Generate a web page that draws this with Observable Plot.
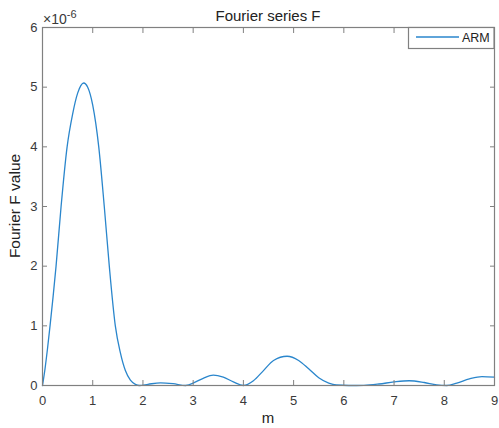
<!DOCTYPE html>
<html><head><meta charset="utf-8">
<script src="https://cdn.jsdelivr.net/npm/d3@7"></script>
<script src="https://cdn.jsdelivr.net/npm/@observablehq/plot@0.6"></script>
<style>
body{margin:0;background:#fff;}
#chart{position:relative;width:499px;height:428px;}
</style></head><body><div id="chart"></div>
<script>
const mValues = [0, 0.05, 0.1, 0.15, 0.21, 0.27, 0.37, 0.49, 0.6, 0.7, 0.82, 0.9, 1.0, 1.12, 1.23, 1.33, 1.45, 1.55, 1.65, 1.75, 1.85, 1.93,
  2.1, 2.35, 2.6, 2.85, 3.05, 3.2, 3.4, 3.6, 3.8, 4.0, 4.2, 4.4, 4.6, 4.87, 5.1, 5.3, 5.5, 5.7, 5.85, 6.1, 6.4, 6.7, 7.0, 7.3, 7.6, 7.85, 8.05, 8.25, 8.5, 8.75, 9.0];
const fValues = [0, 0.28, 0.62, 1.0, 1.48, 2.0, 3.0, 4.0, 4.55, 4.9, 5.07, 5.0, 4.7, 4.0, 3.0, 2.0, 1.0, 0.55, 0.25, 0.09, 0.02, 0,
  0.02, 0.045, 0.03, 0, 0.06, 0.12, 0.175, 0.14, 0.06, 0, 0.08, 0.25, 0.42, 0.49, 0.42, 0.28, 0.13, 0.04, 0.008, 0, 0.003, 0.025, 0.06, 0.08, 0.05, 0.01, 0, 0.04, 0.11, 0.15, 0.14];
const xTicks = [0, 1, 2, 3, 4, 5, 6, 7, 8, 9];
const yTicks = [0, 1, 2, 3, 4, 5, 6];
const seriesName = "ARM";
const chartTitle = "Fourier series F";
const xLabel = "m";
const yLabel = "Fourier F value";
const exponentBase = "×10";
const exponent = "-6";

const data = mValues.map((m, i) => ({m, f: fValues[i], series: seriesName}));
const W = 499, H = 428, ml = 42, mr = 5, mt = 27, mb = 43;
const axisColor = "#808080";
const lineColor = "#2a86cc";
const font = "'Liberation Sans', Arial, Helvetica, sans-serif";

const plot = Plot.plot({
  width: W, height: H, marginLeft: ml, marginRight: mr, marginTop: mt, marginBottom: mb,
  style: {fontFamily: font, fontSize: "13px", color: "#3a3a3a", background: "#fff"},
  x: {domain: [0, 9]},
  y: {domain: [0, 6]},
  marks: [
    Plot.line(data, {x: "m", y: "f", stroke: lineColor, strokeWidth: 1.3, curve: "monotone-x"}),
    Plot.axisX({anchor: "bottom", ticks: xTicks, tickSize: -5, tickPadding: 15, tickFormat: d3.format("d"), stroke: axisColor, label: null}),
    Plot.axisX({anchor: "top", ticks: xTicks, tickSize: -5, tickFormat: () => "", stroke: axisColor, label: null}),
    Plot.axisY({anchor: "left", ticks: yTicks, tickSize: -5, tickPadding: 10, tickFormat: d3.format("d"), stroke: axisColor, label: null}),
    Plot.axisY({anchor: "right", ticks: yTicks, tickSize: -5, tickFormat: () => "", stroke: axisColor, label: null}),
    Plot.frame({stroke: axisColor, strokeWidth: 1.2})
  ]
});
document.getElementById("chart").appendChild(plot);

const svg = d3.select(plot);
const cx = ml + (W - ml - mr) / 2, cy = mt + (H - mt - mb) / 2;
// title
svg.append("text").attr("x", cx).attr("y", 21)
  .attr("text-anchor", "middle").attr("font-family", font).attr("font-size", 15).attr("fill", "#222").text(chartTitle);
// axis labels
svg.append("text").attr("x", cx).attr("y", 423)
  .attr("text-anchor", "middle").attr("font-family", font).attr("font-size", 15).attr("fill", "#222").text(xLabel);
svg.append("text").attr("transform", `translate(20,${cy}) rotate(-90)`)
  .attr("text-anchor", "middle").attr("font-family", font).attr("font-size", 15.5).attr("fill", "#222").text(yLabel);
// exponent
const ex = svg.append("text").attr("x", 43).attr("y", 24).attr("text-anchor", "start")
  .attr("font-family", font).attr("font-size", 14).attr("fill", "#3a3a3a");
ex.append("tspan").text(exponentBase);
ex.append("tspan").attr("dy", -6).attr("font-size", 11).text(exponent);
// legend
const lg = svg.append("g");
lg.append("rect").attr("x", 408.5).attr("y", mt + 0.5).attr("width", W - mr - 408.5).attr("height", 21)
  .attr("fill", "#fff").attr("stroke", axisColor).attr("stroke-width", 1.2);
lg.append("line").attr("x1", 416).attr("x2", 459).attr("y1", 37).attr("y2", 37).attr("stroke", lineColor).attr("stroke-width", 1.3);
lg.append("text").attr("x", 462).attr("y", 42).attr("text-anchor", "start").attr("font-family", font).attr("font-size", 12.5).attr("fill", "#222").text(seriesName);
</script></body></html>
